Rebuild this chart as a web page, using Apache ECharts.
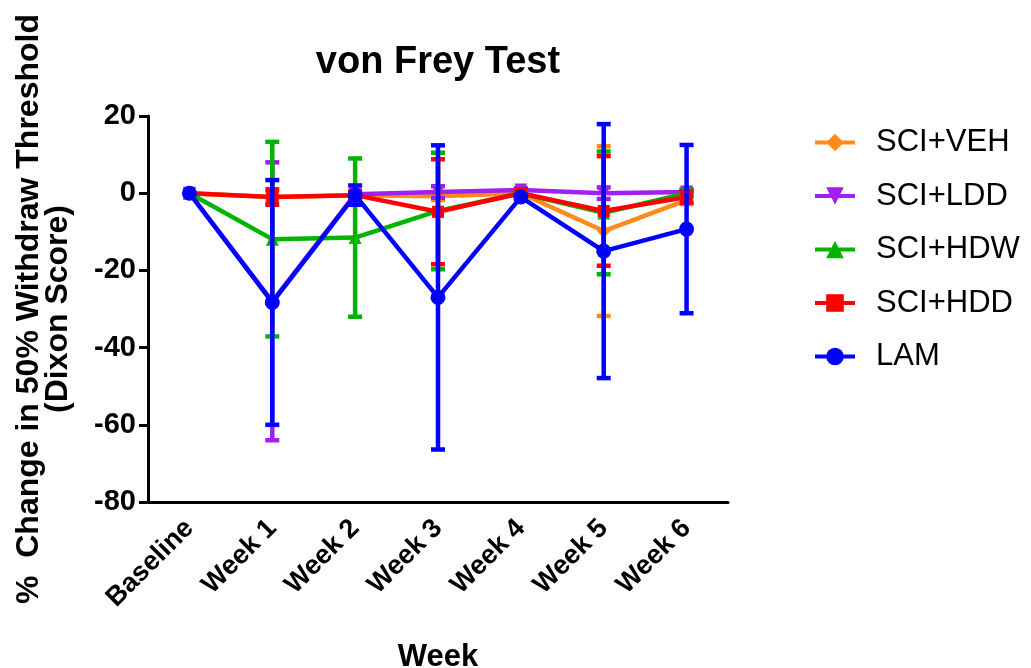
<!DOCTYPE html>
<html>
<head>
<meta charset="utf-8">
<script src="https://cdn.jsdelivr.net/npm/echarts@6/dist/echarts.min.js"></script>
<style>
html,body{margin:0;padding:0;background:#fff;}
#chart{width:1031px;height:668px;}
</style>
</head>
<body>
<div id="chart"></div>
<script>
const categories = ['Baseline', 'Week 1', 'Week 2', 'Week 3', 'Week 4', 'Week 5', 'Week 6'];
const seriesNames = ['SCI+VEH', 'SCI+LDD', 'SCI+HDW', 'SCI+HDD', 'LAM'];
const vehMean = [0, -1, -0.5, -0.8, 0, -9.8, -1.8];
const vehErr  = [0, 1, 0.5, 1, 0.5, 22, 1];
const lddMean = [0, -28, -0.3, 0.3, 0.8, 0, 0.3];
const lddErr  = [0, 36, 0.5, 1.5, 0.5, 1.5, 0.5];
const hdwMean = [0, -11.9, -11.5, -4.6, 0, -5.1, 0];
const hdwErr  = [0, 25.2, 20.5, 15.1, 0.5, 15.9, 1];
const hddMean = [0, -1, -0.5, -4.8, 0, -4.6, -1];
const hddErr  = [0, 2, 1, 13.6, 1, 14.2, 1.5];
const lamMean = [0, -28.3, -0.5, -27, -1, -15, -9.3];
const lamErr  = [0, 31.7, 2.5, 39.4, 0.5, 32.9, 21.8];
const yTicks = [-80, -60, -40, -20, 0, 20];

const means = [vehMean, lddMean, hdwMean, hddMean, lamMean];
const errs = [vehErr, lddErr, hdwErr, hddErr, lamErr];
const colors = ['#ff8c1a', '#a020f0', '#00b400', '#ff0000', '#0000ff'];
const symbols = ['diamond', 'triangle', 'triangle', 'rect', 'circle'];
const symbolRot = [0, 180, 0, 0, 0];
const symbolSizes = [14, 13, 13, 12, 15];

const FONT = '"Liberation Sans", Arial, sans-serif';

const series = [];
seriesNames.forEach((name, i) => {
  const color = colors[i];
  series.push({
    type: 'custom',
    name: name + ' err',
    z: 2 + i * 2,
    silent: true,
    data: categories.map((c, k) => [k, means[i][k] - errs[i][k], means[i][k] + errs[i][k], errs[i][k]]),
    renderItem: function (params, api) {
      if (api.value(3) <= 0) return null;
      const x = api.value(0);
      const lo = api.coord([x, api.value(1)]);
      const hi = api.coord([x, api.value(2)]);
      const hw = 7;
      const st = { stroke: color, lineWidth: 4.5 };
      return {
        type: 'group',
        children: [
          { type: 'line', shape: { x1: hi[0], y1: hi[1], x2: lo[0], y2: lo[1] }, style: st },
          { type: 'line', shape: { x1: hi[0] - hw, y1: hi[1], x2: hi[0] + hw, y2: hi[1] }, style: st },
          { type: 'line', shape: { x1: lo[0] - hw, y1: lo[1], x2: lo[0] + hw, y2: lo[1] }, style: st }
        ]
      };
    }
  });
  series.push({
    type: 'line',
    name: name,
    z: 3 + i * 2,
    data: means[i],
    symbol: symbols[i],
    symbolRotate: symbolRot[i],
    symbolSize: symbolSizes[i],
    showAllSymbol: true,
    color: color,
    lineStyle: { color: color, width: 4.5 },
    itemStyle: { color: color },
    animation: false
  });
});

const chart = echarts.init(document.getElementById('chart'), null, { renderer: 'canvas' });
chart.setOption({
  animation: false,
  backgroundColor: '#ffffff',
  title: {
    text: 'von Frey Test',
    left: 433,
    top: 39,
    textAlign: 'center',
    textStyle: { fontFamily: FONT, fontWeight: 'bold', fontSize: 38, color: '#000' }
  },
  legend: {
    data: seriesNames,
    orient: 'vertical',
    left: 808,
    top: 122,
    itemWidth: 40,
    itemHeight: 22,
    itemGap: 22.5,
    lineStyle: { width: 4 },
    textStyle: { fontFamily: FONT, fontSize: 31, color: '#000', lineHeight: 30, padding: [0, 0, 0, 16] }
  },
  grid: { left: 148, top: 116, width: 580, height: 386, containLabel: false, outerBoundsMode: 'none' },
  xAxis: {
    type: 'category',
    data: categories,
    boundaryGap: true,
    name: 'Week',
    nameLocation: 'middle',
    nameGap: 140,
    nameTextStyle: { fontFamily: FONT, fontWeight: 'bold', fontSize: 31, color: '#000' },
    axisLine: { onZero: false, lineStyle: { color: '#000', width: 3 } },
    axisTick: { alignWithLabel: true, length: 9, lineStyle: { color: '#000', width: 3 } },
    axisLabel: { rotate: 45, margin: 22, fontFamily: FONT, fontWeight: 'bold', fontSize: 27, color: '#000', interval: 0 },
    splitLine: { show: false }
  },
  yAxis: {
    type: 'value',
    min: yTicks[0],
    max: yTicks[yTicks.length - 1],
    interval: 20,
    name: '%  Change in 50% Withdraw Threshold\n(Dixon Score)',
    nameLocation: 'middle',
    nameRotate: 90,
    nameGap: 75,
    nameTextStyle: { fontFamily: FONT, fontWeight: 'bold', fontSize: 32, color: '#000', lineHeight: 29, align: 'center' },
    axisLine: { show: true, lineStyle: { color: '#000', width: 3 } },
    axisTick: { show: true, length: 9, lineStyle: { color: '#000', width: 3 } },
    axisLabel: { margin: 12, fontFamily: FONT, fontWeight: 'bold', fontSize: 29, color: '#000' },
    splitLine: { show: false }
  },
  series: series
});
</script>
</body>
</html>
